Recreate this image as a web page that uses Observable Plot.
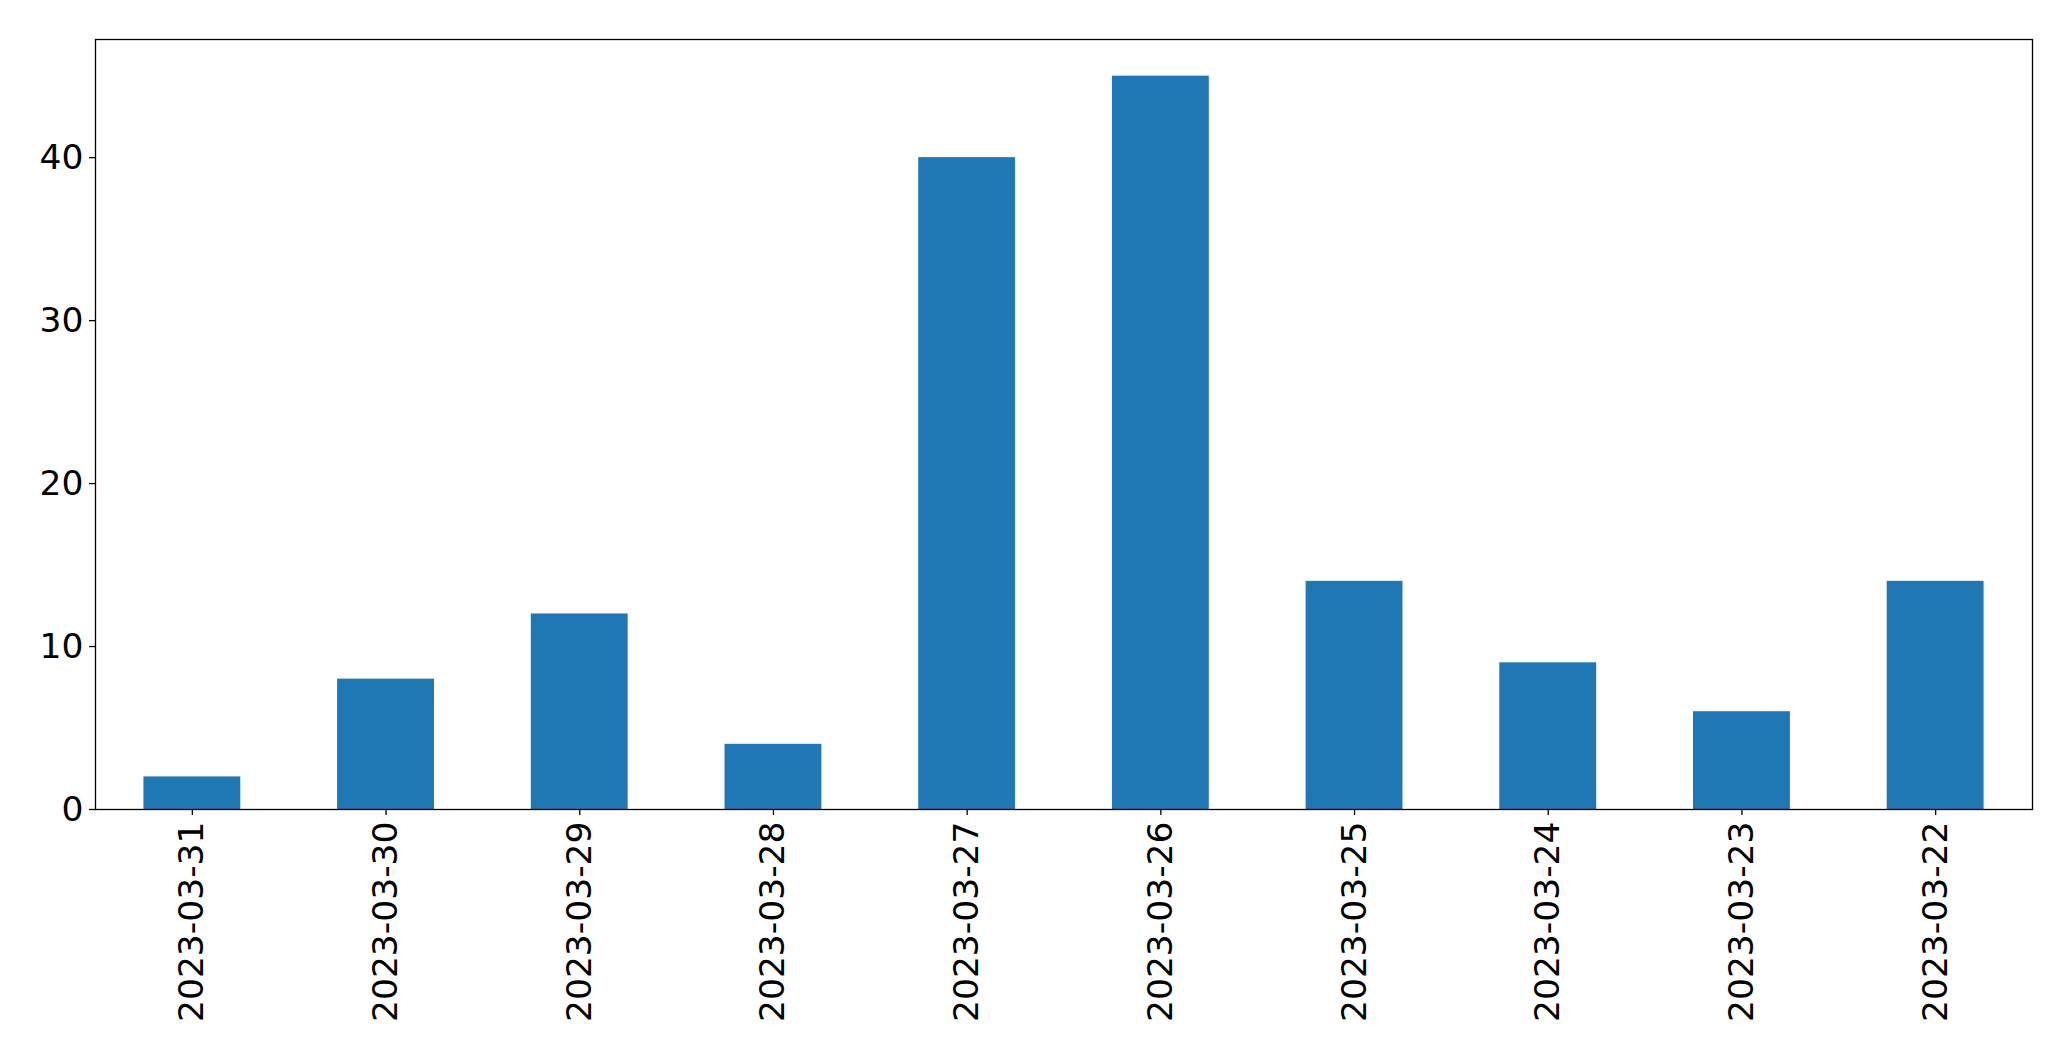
<!DOCTYPE html>
<html>
<head>
<meta charset="utf-8">
<script src="https://cdn.jsdelivr.net/npm/d3@7"></script>
<script src="https://cdn.jsdelivr.net/npm/@observablehq/plot@0.6"></script>
<style>
  html, body { margin: 0; padding: 0; background: #fff; }
  #chart svg { display: block; }
</style>
</head>
<body>
<div id="chart"></div>
<script>
const dates = ["2023-03-31","2023-03-30","2023-03-29","2023-03-28","2023-03-27","2023-03-26","2023-03-25","2023-03-24","2023-03-23","2023-03-22"];
const counts = [2, 8, 12, 4, 40, 45, 14, 9, 6, 14];
const yTicks = [0, 10, 20, 30, 40];

const data = dates.map((d, i) => ({date: d, count: counts[i]}));

const chart = Plot.plot({
  width: 2071,
  height: 1061,
  marginLeft: 95,
  marginRight: 39,
  marginTop: 39,
  marginBottom: 252,
  style: {fontFamily: "'DejaVu Sans', sans-serif", fontSize: "34.5px", color: "black", background: "white"},
  x: {type: "band", domain: dates, paddingInner: 0.5, paddingOuter: 0.25, align: 0.5, round: false, label: null},
  y: {domain: [0, 47.25], nice: false, label: null},
  marks: [
    Plot.barY(data, {x: "date", y: "count", fill: "#1f77b4"}),
    Plot.axisY({ticks: yTicks, tickSize: 6, tickPadding: 6, fontSize: 34.5, label: null, stroke: "black", strokeOpacity: 1, strokeWidth: 1.3}),
    Plot.axisX({tickSize: 6, tickPadding: 6, tickRotate: -90, fontSize: 34.5, label: null, stroke: "black", strokeOpacity: 1, strokeWidth: 1.3}),
    Plot.frame({stroke: "black", strokeWidth: 1.3})
  ]
});
document.getElementById("chart").appendChild(chart);
</script>
</body>
</html>
